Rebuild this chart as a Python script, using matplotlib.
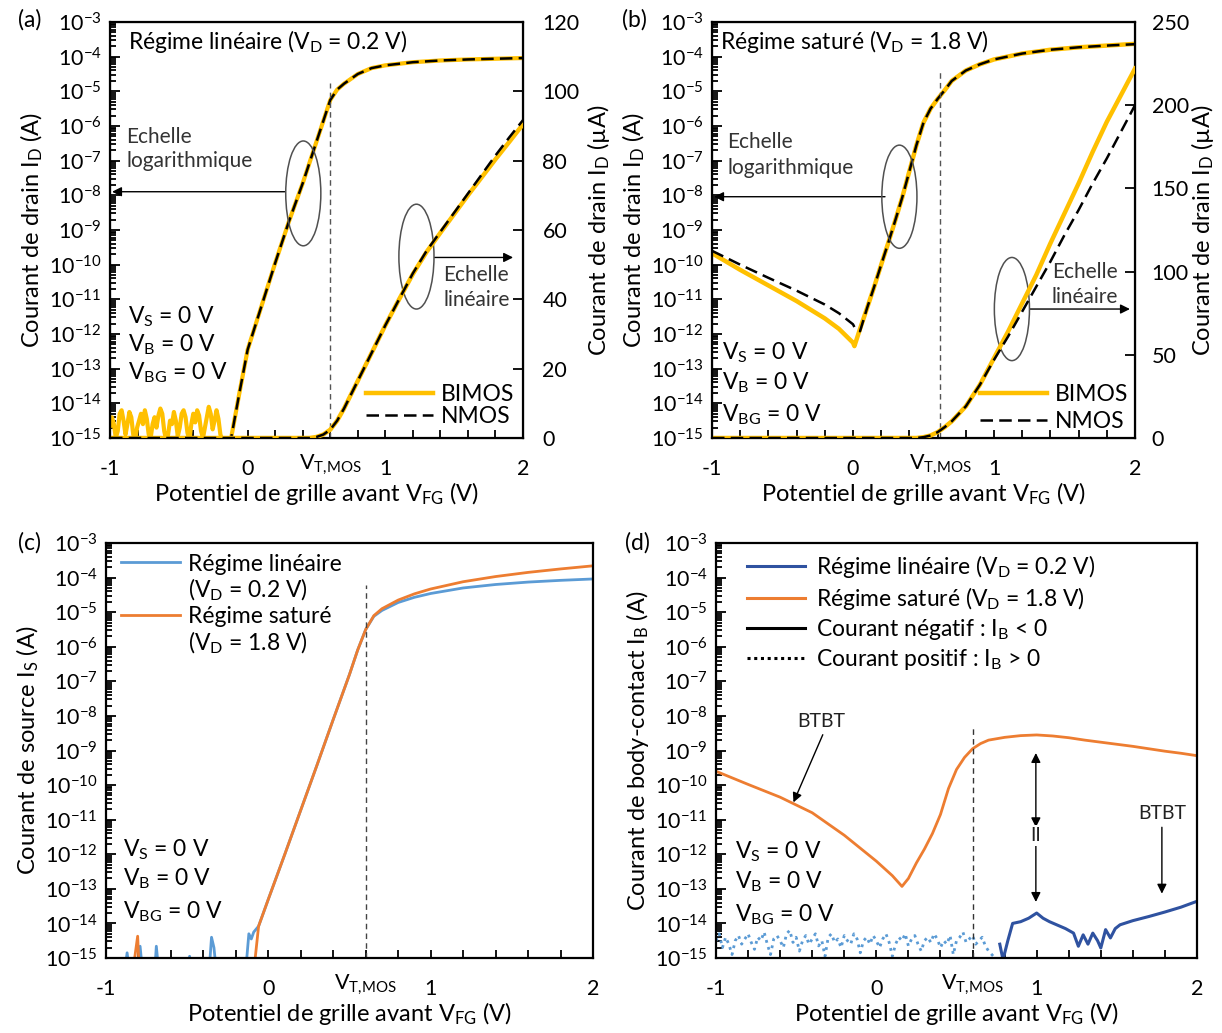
import numpy as np
import matplotlib
matplotlib.use("Agg")
import matplotlib.pyplot as plt
from matplotlib.patches import Ellipse
from matplotlib.lines import Line2D
from matplotlib.transforms import blended_transform_factory
from matplotlib.ticker import (FixedLocator, MultipleLocator, LogLocator,
                               NullFormatter, LogFormatterSciNotation)

plt.rcParams['font.family'] = ['Lato', 'DejaVu Sans']
plt.rcParams['mathtext.fontset'] = 'custom'
plt.rcParams['mathtext.rm'] = 'Lato'
plt.rcParams['mathtext.it'] = 'Lato:italic'
plt.rcParams['mathtext.bf'] = 'Lato:bold'
plt.rcParams['axes.unicode_minus'] = False

# ------------------------------------------------------------------ data
VT_A, VT_B, VT_C, VT_D = 0.6, 0.62, 0.6, 0.6

# (a) linear regime, drain current, log scale (log10 of A)
a_noise_exp = [-14.7, -14.4, -14.6, -15.0, -14.8, -14.3, -14.2, -14.5, -14.9, -14.6,
               -14.25, -14.4, -14.9, -15.05, -14.7, -14.5, -14.3, -14.6, -14.2, -14.45,
               -14.9, -15.0, -14.6, -14.4, -14.7, -14.35, -14.15, -14.3, -14.8, -15.05,
               -14.9, -14.5, -14.6, -14.25, -14.5, -14.95, -14.7, -14.3, -14.2, -14.4,
               -14.85, -15.05, -14.6, -14.3, -14.55, -14.2, -14.35, -14.8, -15.0, -14.7,
               -14.4, -14.1, -14.3, -14.75, -14.5, -14.2, -14.45, -14.9, -15.05, -15.05]
a_log_vfg = [-0.14, -0.12, -0.06, 0.0, 0.1, 0.2, 0.3, 0.4, 0.45, 0.5, 0.55, 0.6, 0.65,
             0.7, 0.8, 0.9, 1.0, 1.2, 1.4, 1.6, 1.8, 2.0]
a_log_exp = [-15.05, -15.0, -13.7, -12.45, -11.2, -9.95, -8.75, -7.65, -7.05, -6.45,
             -5.85, -5.25, -4.95, -4.78, -4.5, -4.33, -4.25, -4.16, -4.11, -4.08,
             -4.06, -4.04]
a_nmos_floor_vfg = [-1.0]
a_nmos_floor_exp = [-15.0]
# (a) linear scale (uA)
a_lin_vfg = [-1.0, 0.45, 0.5, 0.55, 0.6, 0.65, 0.7, 0.8, 0.9, 1.0, 1.1, 1.2, 1.3, 1.4,
             1.5, 1.6, 1.7, 1.8, 1.9, 2.0]
a_lin_nmos = [0, 0, 0.3, 1.0, 2.4, 5.0, 8.5, 16.5, 24.5, 32.5, 40.0, 47.5, 54.0, 59.5,
              65.0, 70.5, 76.0, 81.5, 86.7, 91.7]
a_lin_bimos = [0, 0, 0.3, 1.0, 2.4, 5.0, 8.5, 16.5, 24.5, 32.5, 40.0, 47.3, 53.7, 59.2,
               64.6, 70.0, 75.2, 80.4, 85.4, 90.5]

# (b) saturation regime
b_log_vfg = [-1.0, -0.8, -0.6, -0.4, -0.2, -0.1, 0.0, 0.01, 0.05, 0.1, 0.15, 0.2, 0.25,
             0.3, 0.35, 0.4, 0.45, 0.5, 0.55, 0.6, 0.65, 0.7, 0.8, 0.9, 1.0, 1.2, 1.4,
             1.6, 1.8, 2.0]
b_log_bimos = [-9.67, -10.15, -10.6, -11.05, -11.55, -11.85, -12.25, -12.35, -11.85,
               -11.25, -10.64, -10.0, -9.37, -8.72, -8.05, -7.3, -6.55, -5.9, -5.5,
               -5.22, -4.97, -4.7, -4.4, -4.22, -4.08, -3.91, -3.8, -3.73, -3.68, -3.63]
b_log_nmos = [-9.6, -10.0, -10.38, -10.75, -11.15, -11.4, -11.72, -11.8, -11.92,
              -11.25, -10.64, -10.0, -9.37, -8.72, -8.05, -7.3, -6.55, -5.9, -5.5,
              -5.22, -4.97, -4.7, -4.4, -4.22, -4.08, -3.91, -3.8, -3.73, -3.68, -3.64]
b_lin_vfg = [-1.0, 0.45, 0.5, 0.55, 0.6, 0.65, 0.7, 0.8, 0.9, 1.0, 1.1, 1.2, 1.3, 1.4,
             1.5, 1.6, 1.7, 1.8, 1.9, 2.0]
b_lin_bimos = [0, 0, 0.5, 1.5, 3.5, 6.5, 10, 19, 32, 48, 64, 81, 98, 117, 135, 153,
               172, 190, 206, 222]
b_lin_nmos = [0, 0, 0.5, 1.5, 3.5, 6.5, 10, 19, 32, 47, 61, 76, 91, 106, 122, 137,
              153, 168, 184, 200]

# (c) source current
c_lin_noise_vfg = [-1.0, -0.885, -0.87, -0.855, -0.805, -0.79, -0.775, -0.70, -0.69,
                   -0.675, -0.495, -0.485, -0.475, -0.365, -0.35, -0.335, -0.32, -0.14,
                   -0.12, -0.105, -0.09]
c_lin_noise_exp = [-15.4, -15.4, -14.85, -15.4, -15.4, -14.66, -15.4, -15.4, -14.66,
                   -15.4, -15.4, -14.95, -15.4, -15.4, -14.4, -14.7, -15.4, -15.4,
                   -14.3, -14.45, -14.25]
c_lin_vfg = [-0.06, 0.0, 0.1, 0.2, 0.3, 0.4, 0.45, 0.5, 0.55, 0.6, 0.65, 0.7, 0.8, 0.9,
             1.0, 1.2, 1.4, 1.6, 1.8, 2.0]
c_lin_exp = [-14.08, -13.3, -12.02, -10.72, -9.42, -8.1, -7.45, -6.8, -6.1, -5.5, -5.12,
             -4.95, -4.72, -4.57, -4.46, -4.3, -4.2, -4.13, -4.08, -4.04]
c_sat_noise_vfg = [-1.0, -0.835, -0.805, -0.795, -0.09]
c_sat_noise_exp = [-15.4, -15.4, -14.37, -15.4, -15.4]
c_sat_vfg = [-0.082, -0.06, 0.0, 0.1, 0.2, 0.3, 0.4, 0.45, 0.5, 0.55, 0.6, 0.65, 0.7,
             0.8, 0.9, 1.0, 1.2, 1.4, 1.6, 1.8, 2.0]
c_sat_exp = [-15.05, -14.08, -13.3, -12.02, -10.72, -9.42, -8.1, -7.45, -6.8, -6.1,
             -5.5, -5.1, -4.9, -4.65, -4.47, -4.33, -4.12, -3.97, -3.85, -3.75, -3.66]

# (d) body-contact current
d_sat_vfg = [-1.0, -0.8, -0.6, -0.4, -0.2, 0.0, 0.1, 0.16, 0.2, 0.25, 0.3, 0.35, 0.4,
             0.45, 0.5, 0.55, 0.6, 0.65, 0.7, 0.8, 0.9, 1.0, 1.1, 1.2, 1.3, 1.4, 1.5,
             1.6, 1.7, 1.8, 1.9, 2.0]
d_sat_exp = [-9.6, -9.98, -10.35, -10.8, -11.45, -12.2, -12.62, -12.93, -12.7, -12.25,
             -11.85, -11.4, -10.85, -10.1, -9.55, -9.2, -8.95, -8.8, -8.7, -8.62, -8.57,
             -8.55, -8.58, -8.63, -8.7, -8.76, -8.82, -8.88, -8.95, -9.02, -9.08, -9.15]
d_lin_pos_exp = [-14.5, -14.3, -14.7, -14.4, -14.6, -14.9, -14.5, -14.35, -14.6, -14.45,
                 -14.3, -14.55, -14.75, -14.4, -14.5, -14.25, -14.6, -14.9, -14.45, -14.35,
                 -14.5, -14.7, -14.3, -14.2, -14.55, -14.4, -14.8, -14.5, -14.35, -14.6,
                 -14.45, -14.3, -14.65, -14.5, -14.95, -14.4, -14.3, -14.55, -14.45, -14.7,
                 -14.35, -14.5, -14.6, -14.3, -14.45, -14.85, -14.5, -14.4, -14.6, -14.35,
                 -14.5, -14.7, -14.45, -14.3, -14.55, -14.95, -14.6, -14.4, -14.5, -14.3,
                 -14.65, -14.45, -14.35, -14.6, -14.8, -14.5, -14.4, -14.55, -14.3, -14.45,
                 -14.7, -14.5, -14.6, -14.35, -14.9, -14.5, -14.4, -14.25, -14.55, -14.45,
                 -14.35, -14.6, -14.5, -14.4, -14.65, -14.8, -14.9, -15.0]
d_lin_neg_vfg = [0.77, 0.79, 0.82, 0.85, 0.9, 0.95, 1.0, 1.04, 1.08, 1.13, 1.18, 1.23,
                 1.26, 1.29, 1.32, 1.35, 1.38, 1.40, 1.43, 1.46, 1.49, 1.52, 1.6, 1.7,
                 1.8, 1.9, 2.0]
d_lin_neg_exp = [-14.6, -15.05, -14.5, -14.0, -13.95, -13.85, -13.7, -13.85, -13.95,
                 -14.05, -14.15, -14.28, -14.66, -14.33, -14.6, -14.28, -14.5, -14.71,
                 -14.18, -14.42, -14.15, -14.04, -13.92, -13.8, -13.67, -13.53, -13.36]

# ------------------------------------------------------------------ style
YELLOW = '#FFC000'
ORANGE = '#ED7D31'
LBLUE = '#5B9BD5'
DBLUE = '#2F52A0'
FS_LAB = 17
FS = 16.5
FS_TICK = 15.5
FS_ECH = 15
FS_SMALL = 14
W, H = 1222, 1033

fig = plt.figure(figsize=(W / 100, H / 100), dpi=100)


def box(l, t, r, b):
    return [l / W, 1 - b / H, (r - l) / W, (b - t) / H]


def sub(base, s):
    return base + r'$_{\mathregular{' + s + '}}$'


def style_log(ax):
    ax.set_yscale('log')
    ax.set_ylim(1e-15, 1e-3)
    ax.set_xlim(-1, 2)
    ax.yaxis.set_major_locator(FixedLocator([10.0 ** k for k in range(-15, -2)]))
    ax.yaxis.set_major_formatter(LogFormatterSciNotation())
    ax.yaxis.set_minor_locator(LogLocator(base=10, subs=np.arange(2, 10), numticks=100))
    ax.yaxis.set_minor_formatter(NullFormatter())
    ax.xaxis.set_major_locator(FixedLocator([-1, 0, 1, 2]))
    ax.xaxis.set_minor_locator(MultipleLocator(0.2))
    ax.tick_params(axis='both', which='both', direction='in', labelsize=FS_TICK,
                   width=1.3, right=False, top=False)
    ax.tick_params(axis='y', which='major', length=7, pad=6)
    ax.tick_params(axis='y', which='minor', length=4)
    ax.tick_params(axis='x', which='both', length=6, pad=15)
    for s in ax.spines.values():
        s.set_linewidth(1.6)
    ax.set_xlabel('Potentiel de grille avant ' + sub('V', 'FG') + ' (V)', fontsize=FS_LAB,
                  labelpad=1)


def vt_label(ax, vt):
    tr = blended_transform_factory(ax.transData, ax.transAxes)
    ax.text(vt, -0.036, sub('V', 'T{,}MOS'), transform=tr, ha='center', va='top',
            fontsize=FS_TICK)


def atext(ax, x, y, s, fs=FS, **kw):
    ax.text(x, y, s, transform=ax.transAxes, fontsize=fs, va='center', ha='left', **kw)


def arrow(ax, x0, y0, x1, y1, style='-|>'):
    ax.annotate('', xy=(x1, y1), xytext=(x0, y0), xycoords='axes fraction',
                textcoords='axes fraction',
                arrowprops=dict(arrowstyle=style, color='black', lw=1.0,
                                mutation_scale=14, shrinkA=0, shrinkB=0))


def ellipse(ax, cx, cy, w, h):
    ax.add_patch(Ellipse((cx, cy), w, h, transform=ax.transAxes, fill=False,
                         ec='#505050', lw=1.1, zorder=5))


def conds(ax, x, ys):
    for lab, y in zip([sub('V', 'S') + ' = 0 V', sub('V', 'B') + ' = 0 V',
                       sub('V', 'BG') + ' = 0 V'], ys):
        atext(ax, x, y, lab)


def p10(v):
    return 10.0 ** np.asarray(v, dtype=float)


# ------------------------------------------------------------------ (a)
axA = fig.add_axes(box(110, 22, 523, 438))
style_log(axA)
a_noise_vfg = np.linspace(-1.0, -0.17, len(a_noise_exp))
axA.plot(np.concatenate([a_noise_vfg, a_log_vfg]),
         p10(a_noise_exp + a_log_exp), color=YELLOW, lw=3.0, solid_capstyle='butt')
axA.plot(a_nmos_floor_vfg + a_log_vfg[1:], p10(a_nmos_floor_exp + a_log_exp[1:]),
         color='black', lw=1.8, dashes=(5, 2.5))
axA.axvline(VT_A, ymin=0, ymax=0.853, color='#555555', ls=(0, (4, 3)), lw=1.0)
axA.set_ylabel('Courant de drain ' + sub('I', 'D') + ' (A)', fontsize=FS_LAB, labelpad=3)
vt_label(axA, VT_A)
axA2 = axA.twinx()
axA2.set_ylim(0, 120)
axA2.yaxis.set_major_locator(MultipleLocator(20))
axA2.tick_params(axis='y', direction='in', length=7, width=1.3, labelsize=FS_TICK, pad=14)
lb, = axA2.plot(a_lin_vfg, a_lin_bimos, color=YELLOW, lw=3.2, label='BIMOS')
ln, = axA2.plot(a_lin_vfg, a_lin_nmos, color='black', lw=1.8, dashes=(5, 2.5),
                label='NMOS')
axA2.set_ylabel('Courant de drain ' + sub('I', 'D') + ' (µA)', fontsize=FS_LAB, labelpad=4)
axA2.legend(handles=[lb, ln], loc='center left', bbox_to_anchor=(0.621, 0.078),
            frameon=False, fontsize=FS, handlelength=2.9, handletextpad=0.35,
            labelspacing=0.02, borderpad=0, borderaxespad=0)
atext(axA, 0.044, 0.953, 'Régime linéaire (' + sub('V', 'D') + ' = 0.2 V)')
atext(axA, 0.04, 0.7246, 'Echelle', fs=FS_ECH, color='#333333')
atext(axA, 0.04, 0.665, 'logarithmique', fs=FS_ECH, color='#333333')
atext(axA, 0.807, 0.392, 'Echelle', fs=FS_ECH, color='#333333')
atext(axA, 0.807, 0.332, 'linéaire', fs=FS_ECH, color='#333333')
ellipse(axA, 0.468, 0.588, 0.085, 0.252)
ellipse(axA, 0.742, 0.436, 0.085, 0.252)
arrow(axA, 0.423, 0.592, 0.005, 0.592)
arrow(axA, 0.786, 0.434, 0.976, 0.434)
conds(axA, 0.044, [0.292, 0.224, 0.156])

# ------------------------------------------------------------------ (b)
axB = fig.add_axes(box(712, 22, 1135, 438))
style_log(axB)
axB.plot(b_log_vfg, p10(b_log_bimos), color=YELLOW, lw=3.2)
axB.plot(b_log_vfg, p10(b_log_nmos), color='black', lw=1.8, dashes=(5, 2.5))
axB.axvline(VT_B, ymin=0, ymax=0.88, color='#555555', ls=(0, (4, 3)), lw=1.0)
axB.set_ylabel('Courant de drain ' + sub('I', 'D') + ' (A)', fontsize=FS_LAB, labelpad=3)
vt_label(axB, VT_B)
axB2 = axB.twinx()
axB2.set_ylim(0, 250)
axB2.yaxis.set_major_locator(MultipleLocator(50))
axB2.tick_params(axis='y', direction='in', length=7, width=1.3, labelsize=FS_TICK, pad=12)
lb2, = axB2.plot(b_lin_vfg, b_lin_bimos, color=YELLOW, lw=3.2, label='BIMOS')
ln2, = axB2.plot(b_lin_vfg, b_lin_nmos, color='black', lw=1.8, dashes=(5, 2.5),
                 label='NMOS')
axB2.set_ylabel('Courant de drain ' + sub('I', 'D') + ' (µA)', fontsize=FS_LAB, labelpad=0)
axB2.legend(handles=[lb2, ln2], loc='center left', bbox_to_anchor=(0.634, 0.072),
            frameon=False, fontsize=FS, handlelength=2.9, handletextpad=0.35,
            labelspacing=0.25, borderpad=0, borderaxespad=0)
atext(axB, 0.019, 0.953, 'Régime saturé (' + sub('V', 'D') + ' = 1.8 V)')
atext(axB, 0.036, 0.7126, 'Echelle', fs=FS_ECH, color='#333333')
atext(axB, 0.036, 0.648, 'logarithmique', fs=FS_ECH, color='#333333')
atext(axB, 0.803, 0.399, 'Echelle', fs=FS_ECH, color='#333333')
atext(axB, 0.803, 0.34, 'linéaire', fs=FS_ECH, color='#333333')
ellipse(axB, 0.443, 0.58, 0.083, 0.248)
ellipse(axB, 0.709, 0.31, 0.083, 0.248)
arrow(axB, 0.409, 0.58, 0.005, 0.58)
arrow(axB, 0.752, 0.31, 0.988, 0.31)
conds(axB, 0.024, [0.204, 0.132, 0.056])

# ------------------------------------------------------------------ (c)
axC = fig.add_axes(box(106, 543, 593, 958))
style_log(axC)
lc1, = axC.plot(c_lin_noise_vfg + c_lin_vfg, p10(c_lin_noise_exp + c_lin_exp),
                color=LBLUE, lw=2.0)
lc2, = axC.plot(c_sat_noise_vfg + c_sat_vfg, p10(c_sat_noise_exp + c_sat_exp),
                color=ORANGE, lw=2.0)
axC.axvline(VT_C, ymin=0, ymax=0.90, color='#444444', ls=(0, (4, 3)), lw=1.0)
axC.set_ylabel('Courant de source ' + sub('I', 'S') + ' (A)', fontsize=FS_LAB, labelpad=3)
vt_label(axC, VT_C)
blank = Line2D([], [], color='none')
axC.legend(handles=[lc1, blank, lc2, blank],
           labels=['Régime linéaire', '(' + sub('V', 'D') + ' = 0.2 V)',
                   'Régime saturé', '(' + sub('V', 'D') + ' = 1.8 V)'],
           loc='center left', bbox_to_anchor=(0.03, 0.851), frameon=False,
           fontsize=FS, handlelength=2.6, handletextpad=0.35, labelspacing=0.12,
           borderpad=0, borderaxespad=0)
conds(axC, 0.034, [0.261, 0.19, 0.112])

# ------------------------------------------------------------------ (d)
axD = fig.add_axes(box(716, 543, 1197, 958))
style_log(axD)
d_lin_pos_vfg = np.linspace(-1.0, 0.74, len(d_lin_pos_exp))
axD.plot(d_lin_pos_vfg, p10(d_lin_pos_exp), color=LBLUE, lw=2.0, ls=(0, (1, 1.6)))
axD.plot(d_lin_neg_vfg, p10(d_lin_neg_exp), color=DBLUE, lw=2.2)
axD.plot(d_sat_vfg, p10(d_sat_exp), color=ORANGE, lw=2.0)
axD.axvline(VT_D, ymin=0, ymax=0.558, color='#333333', ls=(0, (4, 3)), lw=1.0)
axD.set_ylabel('Courant de body-contact ' + sub('I', 'B') + ' (A)', fontsize=FS_LAB,
               labelpad=3)
vt_label(axD, VT_D)
hd = [Line2D([], [], color=DBLUE, lw=2.2), Line2D([], [], color=ORANGE, lw=2.2),
      Line2D([], [], color='black', lw=2.2),
      Line2D([], [], color='black', lw=2.2, ls=(0, (1, 1.2)))]
axD.legend(handles=hd,
           labels=['Régime linéaire (' + sub('V', 'D') + ' = 0.2 V)',
                   'Régime saturé (' + sub('V', 'D') + ' = 1.8 V)',
                   'Courant négatif : ' + sub('I', 'B') + ' < 0',
                   'Courant positif : ' + sub('I', 'B') + ' > 0'],
           loc='center left', bbox_to_anchor=(0.065, 0.833), frameon=False,
           fontsize=FS, handlelength=2.5, handletextpad=0.5, labelspacing=0.22,
           borderpad=0, borderaxespad=0)
axD.text(0.218, 0.57, 'BTBT', transform=axD.transAxes, fontsize=FS_SMALL, ha='center',
         va='center', color='#222222')
arrow(axD, 0.222, 0.538, 0.161, 0.375)
axD.text(0.927, 0.347, 'BTBT', transform=axD.transAxes, fontsize=FS_SMALL, ha='center',
         va='center', color='#222222')
arrow(axD, 0.927, 0.315, 0.927, 0.155)
arrow(axD, 0.665, 0.315, 0.665, 0.494, style='<|-|>')
arrow(axD, 0.665, 0.315, 0.665, 0.135)
axD.text(0.665, 0.295, 'II', transform=axD.transAxes, fontsize=FS_SMALL, ha='center',
         va='center', color='#222222',
         bbox=dict(facecolor='white', edgecolor='none', pad=1.5), zorder=6)
conds(axD, 0.04, [0.255, 0.183, 0.104])

# ------------------------------------------------------------------ panel tags
for tag, x, y in [('(a)', 18, 20), ('(b)', 622, 20), ('(c)', 18, 543), ('(d)', 625, 543)]:
    fig.text(x / W, 1 - y / H, tag, fontsize=FS, ha='left', va='center')

fig.savefig('out.png', dpi=100)
